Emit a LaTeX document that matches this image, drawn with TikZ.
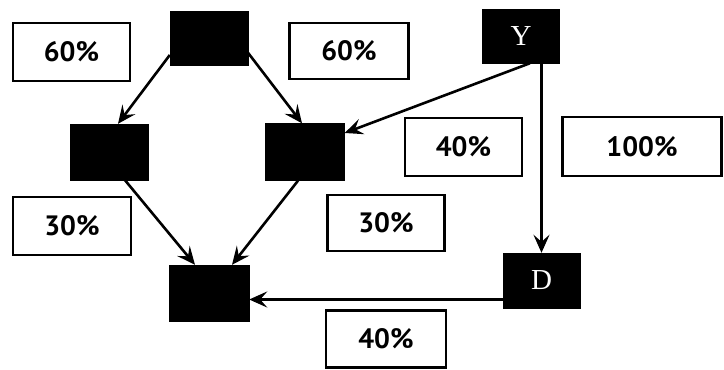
\documentclass[tikz,border=0pt]{standalone}
\usepackage{fontspec}
\setmainfont{Liberation Serif}
\newfontfamily\pctfont{PT Sans}
\usetikzlibrary{arrows.meta}
\tikzset{
  darkbox/.style={fill=black,draw=black,inner sep=0pt,text=white,font=\fontsize{29}{29}\selectfont},
  pctbox/.style={draw=black,line width=2.8pt,fill=white,inner sep=0pt,font=\pctfont\bfseries\fontsize{28}{28}\selectfont},
  arr/.style={line width=2.6pt,-{Stealth[length=18pt,width=16pt,inset=7pt]}},
}
\begin{document}
\begin{tikzpicture}[x=1pt,y=-1pt]
\useasboundingbox[fill=white] (0,0) rectangle (724,370);
% dark nodes
\node[darkbox,minimum width=78pt,minimum height=54pt] (top) at (209,38) {};
\node[darkbox,minimum width=78pt,minimum height=56pt] (L) at (109,152) {};
\node[darkbox,minimum width=79pt,minimum height=57pt] (B) at (305,152) {};
\node[darkbox,minimum width=80pt,minimum height=56pt] (bot) at (209,293) {};
\node[darkbox,minimum width=77pt,minimum height=54pt] (Y) at (521,36) {Y};
\node[darkbox,minimum width=77pt,minimum height=55pt] (D) at (541.5,280.5) {D};
% percentage boxes
\node[pctbox,minimum width=117pt,minimum height=58pt] (p1) at (71.5,52) {60\%};
\node[pctbox,minimum width=119pt,minimum height=56pt] (p2) at (349,51) {60\%};
\node[pctbox,minimum width=117pt,minimum height=58pt] (p3) at (463.5,147) {40\%};
\node[pctbox,minimum width=159pt,minimum height=59pt] (p4) at (642,146.5) {100\%};
\node[pctbox,minimum width=118pt,minimum height=58pt] (p5) at (72,226) {30\%};
\node[pctbox,minimum width=117pt,minimum height=56pt] (p6) at (386,223) {30\%};
\node[pctbox,minimum width=120pt,minimum height=57pt] (p7) at (386,339) {40\%};
% connectors
\draw[arr] ([yshift=-17]top.west) -- ([xshift=9]L.north);
\draw[arr] ([yshift=-15]top.east) -- ([xshift=-3]B.north);
\draw[arr] ([xshift=16]L.south) -- ([xshift=-14]bot.north);
\draw[arr] ([xshift=-7]B.south) -- ([xshift=23]bot.north);
\draw[arr] ([xshift=9]Y.south) -- ([yshift=19]B.east);
\draw[arr] (Y.south -| D.north) -- (D.north);
\draw[arr] ([yshift=-19]D.west) coordinate (d1) -- (d1 -| bot.east);
\end{tikzpicture}
\end{document}
